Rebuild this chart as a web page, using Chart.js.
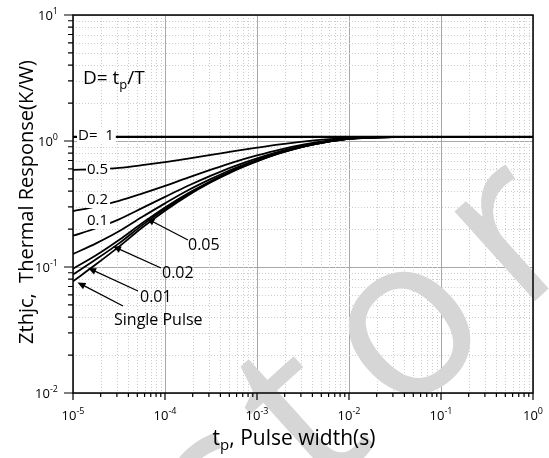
<!DOCTYPE html>
<html>
<head>
<meta charset="utf-8">
<script src="https://cdn.jsdelivr.net/npm/chart.js@4.4.0/dist/chart.umd.min.js"></script>
<style>
  html, body { margin: 0; padding: 0; background: #fff; }
  canvas { display: block; }
</style>
</head>
<body>
<canvas id="zthChart" width="549" height="458"></canvas>
<script>
// pulse width tp (s)
const tp = [1e-5, 1.78e-5, 3.16e-5, 5.62e-5, 1e-4, 1.78e-4, 3.16e-4, 5.62e-4,
            1e-3, 1.78e-3, 3.16e-3, 5.62e-3, 1e-2, 3.16e-2, 1e-1, 1];

// Zthjc (K/W) for each duty cycle D = tp/T
const zD1     = [1.08, 1.08, 1.08, 1.08, 1.08, 1.08, 1.08, 1.08, 1.08, 1.08, 1.08, 1.08, 1.08, 1.08, 1.08, 1.08];
const zD05    = [0.59, 0.597, 0.613, 0.643, 0.68, 0.725, 0.775, 0.83, 0.885, 0.94, 0.99, 1.03, 1.06, 1.078, 1.08, 1.08];
const zD02    = [0.278, 0.302, 0.335, 0.382, 0.44, 0.512, 0.592, 0.68, 0.768, 0.856, 0.936, 1.0, 1.048, 1.076, 1.08, 1.08];
const zD01    = [0.177, 0.203, 0.239, 0.293, 0.36, 0.441, 0.531, 0.63, 0.729, 0.828, 0.918, 0.99, 1.044, 1.076, 1.08, 1.08];
const zD005   = [0.127, 0.154, 0.192, 0.249, 0.32, 0.406, 0.5, 0.605, 0.71, 0.814, 0.909, 0.985, 1.042, 1.075, 1.08, 1.08];
const zD002   = [0.097, 0.124, 0.164, 0.222, 0.296, 0.384, 0.482, 0.59, 0.698, 0.806, 0.904, 0.982, 1.041, 1.075, 1.08, 1.08];
const zD001   = [0.087, 0.115, 0.154, 0.214, 0.288, 0.377, 0.476, 0.585, 0.694, 0.803, 0.902, 0.981, 1.04, 1.075, 1.08, 1.08];
const zSingle = [0.077, 0.105, 0.145, 0.205, 0.28, 0.37, 0.47, 0.58, 0.69, 0.80, 0.90, 0.98, 1.04, 1.075, 1.08, 1.08];

const seriesNames = ['D= 1', '0.5', '0.2', '0.1', '0.05', '0.02', '0.01', 'Single Pulse'];
const seriesData = [zD1, zD05, zD02, zD01, zD005, zD002, zD001, zSingle];

// decade tick labels (exponents)
const xExponents = ['-5', '-4', '-3', '-2', '-1', '0'];
const yExponents = ['-2', '-1', '0', '1'];

// labels sitting on the curves at the left edge
const lineLabels = [
  { text: 'D=  1', x: 78, y: 136 },
  { text: '0.5', x: 87, y: 170 },
  { text: '0.2', x: 87, y: 200 },
  { text: '0.1', x: 87, y: 221 }
];

// arrow call-outs: tip in data units, text position in pixels
const callouts = [
  { text: '0.05', tip: [6.3e-5, 0.243], tail: [188, 240], tx: 188, ty: 250 },
  { text: '0.02', tip: [2.72e-5, 0.146], tail: [161, 268], tx: 162, ty: 278 },
  { text: '0.01', tip: [1.46e-5, 0.098], tail: [138, 291], tx: 140, ty: 302 },
  { text: 'Single Pulse', tip: [1.12e-5, 0.0755], tail: [123, 306], tx: 114, ty: 325 }
];

const FONT = '"Open Sans", "Noto Sans", "DejaVu Sans", sans-serif';

function isDecade(v) {
  const l = Math.log10(v);
  return Math.abs(l - Math.round(l)) < 1e-6;
}

function logTicks(min, max) {
  const out = [];
  const e0 = Math.round(Math.log10(min)), e1 = Math.round(Math.log10(max));
  for (let e = e0; e < e1; e++) {
    for (let m = 1; m < 10; m++) out.push({ value: m * Math.pow(10, e) });
  }
  out.push({ value: max });
  return out;
}

// draws runs of text with different sizes / vertical offsets
function drawRuns(ctx, runs, x, y, align) {
  let total = 0;
  runs.forEach(r => {
    ctx.font = r.size + 'px ' + FONT;
    r.w = ctx.measureText(r.text).width;
    total += r.w;
  });
  let cx = align === 'center' ? x - total / 2 : align === 'right' ? x - total : x;
  ctx.textAlign = 'left';
  runs.forEach(r => {
    ctx.font = r.size + 'px ' + FONT;
    ctx.fillText(r.text, cx, y + (r.dy || 0));
    cx += r.w;
  });
  return total;
}

function powLabel(exp) {
  return [{ text: '10', size: 13 }, { text: exp, size: 9, dy: -6 }];
}

const framePlugin = {
  id: 'frame',
  beforeDatasetsDraw(chart) {
    const { ctx, chartArea: a, scales: { x, y } } = chart;
    ctx.save();
    // minor dotted grid
    ctx.strokeStyle = '#cdcdcd';
    ctx.lineWidth = 1;
    ctx.setLineDash([1, 2]);
    ctx.beginPath();
    x.ticks.forEach(t => {
      if (isDecade(t.value)) return;
      const px = Math.round(x.getPixelForValue(t.value)) + 0.5;
      ctx.moveTo(px, a.top); ctx.lineTo(px, a.bottom);
    });
    y.ticks.forEach(t => {
      if (isDecade(t.value)) return;
      const py = Math.round(y.getPixelForValue(t.value)) + 0.5;
      ctx.moveTo(a.left, py); ctx.lineTo(a.right, py);
    });
    ctx.stroke();
    ctx.setLineDash([]);

    // faint watermark
    ctx.save();
    ctx.translate(414, 410);
    ctx.rotate(-42 * Math.PI / 180);
    ctx.fillStyle = '#d6d6d6';
    ctx.font = '225px ' + FONT;
    ctx.letterSpacing = '28px';
    ctx.textAlign = 'center';
    ctx.textBaseline = 'alphabetic';
    ctx.fillText('ctor', 0, 0);
    ctx.restore();
    ctx.restore();
  },
  afterDatasetsDraw(chart) {
    const { ctx, chartArea: a, scales: { x, y } } = chart;
    ctx.save();
    ctx.strokeStyle = '#000';
    ctx.fillStyle = '#000';

    // box
    ctx.lineWidth = 1.5;
    ctx.strokeRect(a.left, a.top, a.right - a.left, a.bottom - a.top);

    // tick marks (outward on left and bottom)
    ctx.lineWidth = 1.2;
    ctx.beginPath();
    x.ticks.forEach(t => {
      const px = x.getPixelForValue(t.value);
      ctx.moveTo(px, a.bottom); ctx.lineTo(px, a.bottom + (isDecade(t.value) ? 7 : 4));
    });
    y.ticks.forEach(t => {
      const py = y.getPixelForValue(t.value);
      ctx.moveTo(a.left, py); ctx.lineTo(a.left - (isDecade(t.value) ? 9 : 5), py);
    });
    ctx.stroke();

    // tick labels
    ctx.textBaseline = 'alphabetic';
    xExponents.forEach(e => {
      const px = x.getPixelForValue(Math.pow(10, +e));
      drawRuns(ctx, powLabel(e), px, a.bottom + 27, 'center');
    });
    yExponents.forEach(e => {
      const py = y.getPixelForValue(Math.pow(10, +e));
      drawRuns(ctx, powLabel(e), a.left - 15, py + 5, 'right');
    });

    // axis titles
    drawRuns(ctx, [
      { text: 't', size: 21 }, { text: 'p', size: 15, dy: 5 },
      { text: ', Pulse width(s)', size: 21 }
    ], 294, 445, 'center');
    ctx.save();
    ctx.translate(33, 202);
    ctx.rotate(-Math.PI / 2);
    drawRuns(ctx, [{ text: 'Zthjc,  Thermal Response(K/W)', size: 20 }], 0, 0, 'center');
    ctx.restore();

    // D = tp/T
    drawRuns(ctx, [
      { text: 'D= t', size: 19 }, { text: 'p', size: 13, dy: 5 }, { text: '/T', size: 19 }
    ], 83, 84, 'left');

    // labels on curves with white background
    ctx.textBaseline = 'middle';
    ctx.font = '15px ' + FONT;
    lineLabels.forEach(l => {
      const w = ctx.measureText(l.text).width;
      ctx.fillStyle = '#fff';
      ctx.fillRect(l.x - 1, l.y - 8, w + 3, 16);
      ctx.fillStyle = '#000';
      ctx.textAlign = 'left';
      ctx.fillText(l.text, l.x, l.y);
    });

    // arrows
    ctx.textBaseline = 'alphabetic';
    ctx.lineWidth = 1.3;
    callouts.forEach(c => {
      const tx = x.getPixelForValue(c.tip[0]);
      const ty = y.getPixelForValue(c.tip[1]);
      const [ex, ey] = c.tail;
      const ang = Math.atan2(ty - ey, tx - ex);
      ctx.beginPath();
      ctx.moveTo(ex, ey);
      ctx.lineTo(tx - 5 * Math.cos(ang), ty - 5 * Math.sin(ang));
      ctx.stroke();
      ctx.beginPath();
      ctx.moveTo(tx, ty);
      ctx.lineTo(tx - 8 * Math.cos(ang) + 3.5 * Math.sin(ang), ty - 8 * Math.sin(ang) - 3.5 * Math.cos(ang));
      ctx.lineTo(tx - 8 * Math.cos(ang) - 3.5 * Math.sin(ang), ty - 8 * Math.sin(ang) + 3.5 * Math.cos(ang));
      ctx.closePath();
      ctx.fill();
      ctx.font = '16px ' + FONT;
      ctx.textAlign = 'left';
      ctx.fillText(c.text, c.tx, c.ty);
    });
    ctx.restore();
  }
};

new Chart(document.getElementById('zthChart').getContext('2d'), {
  type: 'line',
  data: {
    datasets: seriesNames.map((name, i) => ({
      label: name,
      data: tp.map((t, j) => ({ x: t, y: seriesData[i][j] })),
      borderColor: '#000',
      borderWidth: i === 0 ? 2.2 : 1.8,
      pointRadius: 0,
      fill: false,
      cubicInterpolationMode: 'monotone'
    }))
  },
  options: {
    responsive: false,
    animation: false,
    events: [],
    layout: { padding: { left: 73, right: 16, top: 15, bottom: 65 } },
    plugins: {
      legend: { display: false },
      tooltip: { enabled: false }
    },
    scales: {
      x: {
        type: 'logarithmic',
        min: 1e-5,
        max: 1,
        afterBuildTicks: s => { s.ticks = logTicks(1e-5, 1); },
        ticks: { display: false },
        border: { display: false },
        grid: {
          drawTicks: false,
          color: c => (c.tick && isDecade(c.tick.value) ? '#a8a8a8' : 'rgba(0,0,0,0)'),
          lineWidth: 1
        }
      },
      y: {
        type: 'logarithmic',
        min: 1e-2,
        max: 10,
        afterBuildTicks: s => { s.ticks = logTicks(1e-2, 10); },
        ticks: { display: false },
        border: { display: false },
        grid: {
          drawTicks: false,
          color: c => (c.tick && isDecade(c.tick.value) ? '#a8a8a8' : 'rgba(0,0,0,0)'),
          lineWidth: 1
        }
      }
    }
  },
  plugins: [framePlugin]
});
</script>
</body>
</html>
